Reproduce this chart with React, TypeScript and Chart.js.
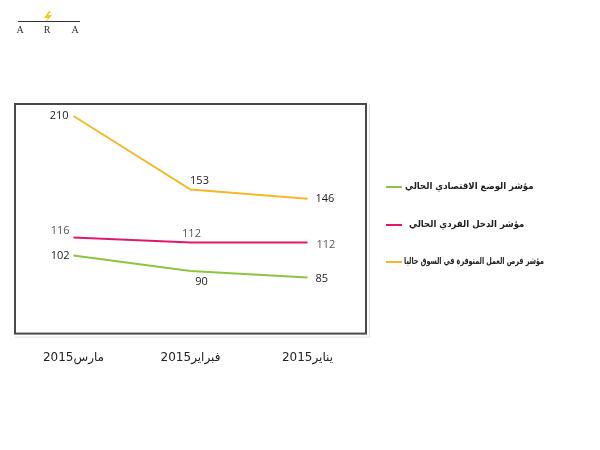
import React, { useEffect, useRef } from 'react';
import { Chart, registerables } from 'chart.js';

Chart.register(...registerables);

const categories = ['2015مارس', '2015فبراير', '2015يناير'];
const seriesNames = [
  'مؤشر الوضع الاقتصادي الحالي',
  'مؤشر الدخل الفردي الحالي',
  'مؤشر فرص العمل المتوفرة في السوق حاليا',
];
const economicValues = [102, 90, 85];
const incomeValues = [116, 112, 112];
const jobsValues = [210, 153, 146];

const boxPlugin = {
  id: 'boxPlugin',
  beforeDatasetsDraw(chart: any) {
    const { ctx, chartArea: a } = chart;
    ctx.save();
    ctx.strokeStyle = '#4a4a4a';
    ctx.lineWidth = 2;
    ctx.strokeRect(a.left, a.top, a.right - a.left, a.bottom - a.top);
    ctx.strokeStyle = 'rgba(0,0,0,0.12)';
    ctx.lineWidth = 1;
    ctx.beginPath();
    ctx.moveTo(a.left, a.bottom + 3.5);
    ctx.lineTo(a.right + 3.5, a.bottom + 3.5);
    ctx.lineTo(a.right + 3.5, a.top);
    ctx.stroke();
    ctx.restore();
  },
};

const valueLabelPlugin = {
  id: 'valueLabelPlugin',
  afterDatasetsDraw(chart: any) {
    const { ctx } = chart;
    ctx.save();
    ctx.font = '11px "Open Sans", sans-serif';
    ctx.textBaseline = 'middle';
    chart.data.datasets.forEach((ds: any, i: number) => {
      const meta = chart.getDatasetMeta(i);
      ctx.fillStyle = ds.labelColor;
      meta.data.forEach((pt: any, j: number) => {
        const [dx, dy, align] = ds.labelPlace[j];
        ctx.textAlign = align;
        ctx.fillText(String(ds.data[j]), pt.x + dx, pt.y + dy);
      });
    });
    ctx.restore();
  },
};

const sideLegendPlugin = {
  id: 'sideLegendPlugin',
  afterDraw(chart: any) {
    const { ctx, chartArea: a } = chart;
    ctx.save();
    ctx.font = 'bold 9.5px "DejaVu Sans Condensed", "DejaVu Sans", sans-serif';
    ctx.textBaseline = 'middle';
    ctx.textAlign = 'left';
    const offsets = [83, 121, 158];
    const gaps = [19, 23, 18];
    chart.data.datasets.forEach((ds: any, i: number) => {
      const y = a.top + offsets[i];
      const x0 = a.right + 20;
      ctx.strokeStyle = ds.borderColor;
      ctx.lineWidth = 2;
      ctx.beginPath();
      ctx.moveTo(x0, y);
      ctx.lineTo(x0 + 16, y);
      ctx.stroke();
      ctx.fillStyle = '#222';
      ctx.fillText(ds.label, x0 + gaps[i], y, 140);
    });
    ctx.restore();
  },
};

export default function App() {
  const canvasRef = useRef<HTMLCanvasElement | null>(null);

  useEffect(() => {
    if (!canvasRef.current) return;
    const chart = new Chart(canvasRef.current, {
      type: 'line',
      data: {
        labels: categories,
        datasets: [
          {
            label: seriesNames[0],
            data: economicValues,
            borderColor: '#8cc63f',
            labelColor: '#222',
            labelPlace: [[-4, 0, 'right'], [11, 11, 'center'], [8, 1, 'left']],
          },
          {
            label: seriesNames[1],
            data: incomeValues,
            borderColor: '#e0196b',
            labelColor: '#555',
            labelPlace: [[-4, -7, 'right'], [1, -9, 'center'], [9, 2, 'left']],
          },
          {
            label: seriesNames[2],
            data: jobsValues,
            borderColor: '#f6b926',
            labelColor: '#1a1a1a',
            labelPlace: [[-5, 0, 'right'], [9, -9, 'center'], [8, 0, 'left']],
          },
        ].map((d: any) => ({
          ...d,
          borderWidth: 2,
          pointRadius: 0,
          pointHoverRadius: 0,
          tension: 0,
          fill: false,
        })),
      },
      options: {
        animation: false,
        responsive: false,
        maintainAspectRatio: false,
        layout: { padding: { left: 15, right: 234, top: 104, bottom: 68 } },
        plugins: { legend: { display: false }, tooltip: { enabled: false } },
        scales: {
          x: {
            offset: true,
            grid: { display: false, drawTicks: false },
            border: { display: false },
            ticks: {
              color: '#222',
              padding: 17,
              font: { family: '"DejaVu Sans", sans-serif', size: 12 },
            },
          },
          y: {
            display: false,
            min: 41.5,
            max: 219.3,
          },
        },
      },
      plugins: [boxPlugin, valueLabelPlugin, sideLegendPlugin],
    } as any);
    return () => chart.destroy();
  }, []);

  return (
    <div style={{ position: 'absolute', left: 0, top: 0, width: 600, height: 450, background: '#fff' }}>
      <canvas ref={canvasRef} width={600} height={450} style={{ display: 'block', width: 600, height: 450 }} />
      <svg width={100} height={40} style={{ position: 'absolute', left: 0, top: 0 }}>
        <polygon points="49,11 44,18 48,18 45,23 52,15 48,15 51,11" fill="#f5c518" />
        <line x1={18} y1={21.5} x2={80} y2={21.5} stroke="#333" strokeWidth={1} />
        <text x={20} y={33} fontFamily="'Liberation Serif', serif" fontSize={10} fill="#333" textAnchor="middle">A</text>
        <text x={47} y={33} fontFamily="'Liberation Serif', serif" fontSize={10} fill="#333" textAnchor="middle">R</text>
        <text x={75} y={33} fontFamily="'Liberation Serif', serif" fontSize={10} fill="#333" textAnchor="middle">A</text>
      </svg>
    </div>
  );
}
